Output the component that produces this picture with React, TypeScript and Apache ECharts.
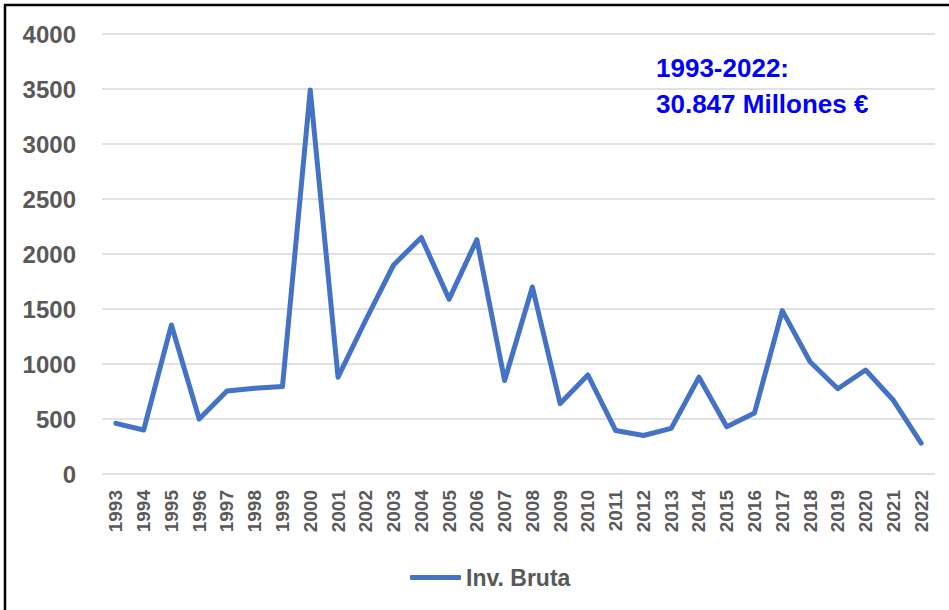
import React, { useEffect, useRef } from "react";
import * as echarts from "echarts";

const years: string[] = [
  "1993", "1994", "1995", "1996", "1997", "1998", "1999", "2000", "2001", "2002",
  "2003", "2004", "2005", "2006", "2007", "2008", "2009", "2010", "2011", "2012",
  "2013", "2014", "2015", "2016", "2017", "2018", "2019", "2020", "2021", "2022",
];
const invBruta: number[] = [
  460, 400, 1355, 500, 755, 780, 795, 3490, 880, 1400,
  1900, 2150, 1590, 2130, 850, 1700, 640, 900, 395, 350,
  415, 880, 430, 555, 1485, 1020, 775, 945, 670, 280,
];
const seriesName = "Inv. Bruta";
const noteLines: string[] = ["1993-2022:", "30.847 Millones €"];

export default function App() {
  const ref = useRef<HTMLDivElement>(null);
  useEffect(() => {
    if (!ref.current) return;
    const chart = echarts.init(ref.current, null, { renderer: "svg" });
    const font = "'Liberation Sans', Arial, sans-serif";
    chart.setOption({
      animation: false,
      backgroundColor: "#ffffff",
      grid: { left: 102, right: 14, top: 34, bottom: 136, containLabel: false },
      xAxis: {
        type: "category",
        data: years,
        boundaryGap: true,
        axisLine: { show: false },
        axisTick: { show: false },
        axisLabel: {
          rotate: 90,
          margin: 16,
          color: "#595959",
          fontFamily: font,
          fontWeight: "bold",
          fontSize: 19,
          interval: 0,
        },
      },
      yAxis: {
        type: "value",
        min: 0,
        max: 4000,
        interval: 500,
        axisLine: { show: false },
        axisTick: { show: false },
        axisLabel: {
          margin: 26,
          color: "#595959",
          fontFamily: font,
          fontWeight: "bold",
          fontSize: 24,
          formatter: (v: number) => String(v),
        },
        splitLine: { lineStyle: { color: "#d9d9d9", width: 1.5 } },
      },
      legend: {
        show: true,
        data: [{ name: seriesName, icon: "roundRect" }],
        left: 405,
        top: 561,
        itemWidth: 51,
        itemHeight: 5,
        itemStyle: { color: "#4472C4" },
        textStyle: {
          color: "#595959",
          fontFamily: font,
          fontWeight: "bold",
          fontSize: 23,
        },
      },
      series: [
        {
          name: seriesName,
          type: "line",
          data: invBruta,
          symbol: "none",
          lineStyle: { color: "#4472C4", width: 5, cap: "round", join: "round" },
          itemStyle: { color: "#4472C4" },
        },
      ],
      graphic: [
        { type: "line", shape: { x1: 4, y1: 5, x2: 949, y2: 5 }, style: { stroke: "#000", lineWidth: 2.5 } },
        { type: "line", shape: { x1: 5, y1: 4, x2: 5, y2: 610 }, style: { stroke: "#000", lineWidth: 2.5 } },
        {
          type: "text",
          x: 656,
          y: 68,
          style: {
            text: noteLines[0],
            fill: "#0000FF",
            font: `bold 26px ${font}`,
            textVerticalAlign: "middle",
          },
        },
        {
          type: "text",
          x: 656,
          y: 104,
          style: {
            text: noteLines[1],
            fill: "#0000FF",
            font: `bold 26px ${font}`,
            textVerticalAlign: "middle",
          },
        },
      ],
    });
    return () => chart.dispose();
  }, []);
  return (
    <div
      ref={ref}
      style={{ position: "absolute", left: 0, top: 0, width: 949, height: 610 }}
    />
  );
}
